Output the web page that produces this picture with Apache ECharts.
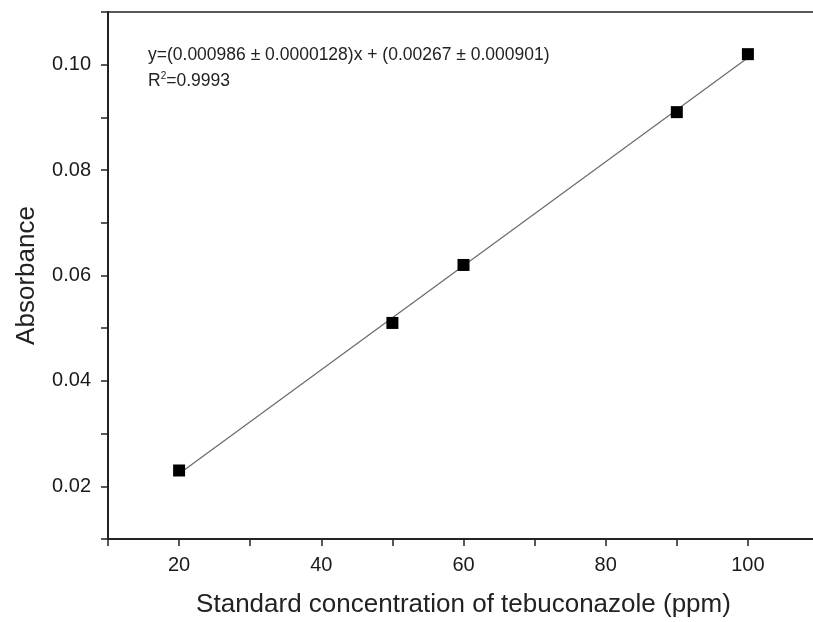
<!DOCTYPE html>
<html>
<head>
<meta charset="utf-8">
<script src="https://cdn.jsdelivr.net/npm/echarts@6/dist/echarts.min.js"></script>
<style>html,body{margin:0;padding:0;background:#fff}#c{width:813px;height:622px}</style>
</head>
<body>
<div id="c"></div>
<script>
// Data
const concentration = [20, 50, 60, 90, 100];
const absorbance = [0.023, 0.051, 0.062, 0.091, 0.102];
// Linear fit line endpoints (as drawn)
const fitX = [20, 100];
const fitY = [0.0224, 0.1013];
const equationText = 'y=(0.000986 ± 0.0000128)x + (0.00267 ± 0.000901)';
const r2Value = '0.9993';
const xTitle = 'Standard concentration of tebuconazole (ppm)';
const yTitle = 'Absorbance';

const font = '"Liberation Sans", Arial, sans-serif';
const chart = echarts.init(document.getElementById('c'), null, {renderer: 'canvas'});
chart.setOption({
  animation: false,
  backgroundColor: '#fff',
  grid: {left: 108, top: 12, right: -6, bottom: 83, outerBoundsMode: 'none', containLabel: false,
    show: true, borderColor: '#222', borderWidth: 1.5},
  xAxis: {
    type: 'value', min: 10, max: 110, interval: 10,
    name: xTitle, nameLocation: 'middle', nameGap: 53,
    nameTextStyle: {fontFamily: font, fontSize: 26, color: '#222'},
    axisLine: {show: true, onZero: false, lineStyle: {color: '#222', width: 2}},
    axisTick: {show: true, inside: false, length: 7, lineStyle: {color: '#222', width: 1.5}},
    axisLabel: {fontFamily: font, fontSize: 20, color: '#1a1a1a', margin: 16,
      formatter: v => (v % 20 === 0 ? String(v) : '')},
    splitLine: {show: false}
  },
  yAxis: {
    type: 'value', min: 0.01, max: 0.11, interval: 0.01,
    name: yTitle, nameLocation: 'middle', nameGap: 68, nameRotate: 90,
    nameTextStyle: {fontFamily: font, fontSize: 26, color: '#222'},
    axisLine: {show: true, onZero: false, lineStyle: {color: '#222', width: 2}},
    axisTick: {show: true, inside: false, length: 7, lineStyle: {color: '#222', width: 1.5}},
    axisLabel: {fontFamily: font, fontSize: 20, color: '#1a1a1a', margin: 17,
      formatter: v => { const k = Math.round(v * 100); return k % 2 === 0 ? v.toFixed(2) : ''; }},
    splitLine: {show: false}
  },
  series: [
    {
      type: 'line', data: fitX.map((x, i) => [x, fitY[i]]),
      showSymbol: false, symbol: 'none',
      lineStyle: {color: '#6a6a6a', width: 1.2}, z: 2
    },
    {
      type: 'scatter', data: concentration.map((x, i) => [x, absorbance[i]]),
      symbol: 'rect', symbolSize: 12,
      itemStyle: {color: '#000', opacity: 1}, z: 3
    }
  ],
  graphic: [
    {type: 'text', left: 148, top: 46, style: {text: equationText, font: '17.5px ' + font, fill: '#222'}},
    {type: 'text', left: 148, top: 71, style: {
      text: '{b|R}{s|2}{b|=' + r2Value + '}',
      rich: {
        b: {fontFamily: font, fontSize: 17.5, fill: '#222', verticalAlign: 'bottom'},
        s: {fontFamily: font, fontSize: 10, fill: '#222', verticalAlign: 'top', padding: [0, 0, 9, 0]}
      }
    }}
  ]
});
</script>
</body>
</html>
